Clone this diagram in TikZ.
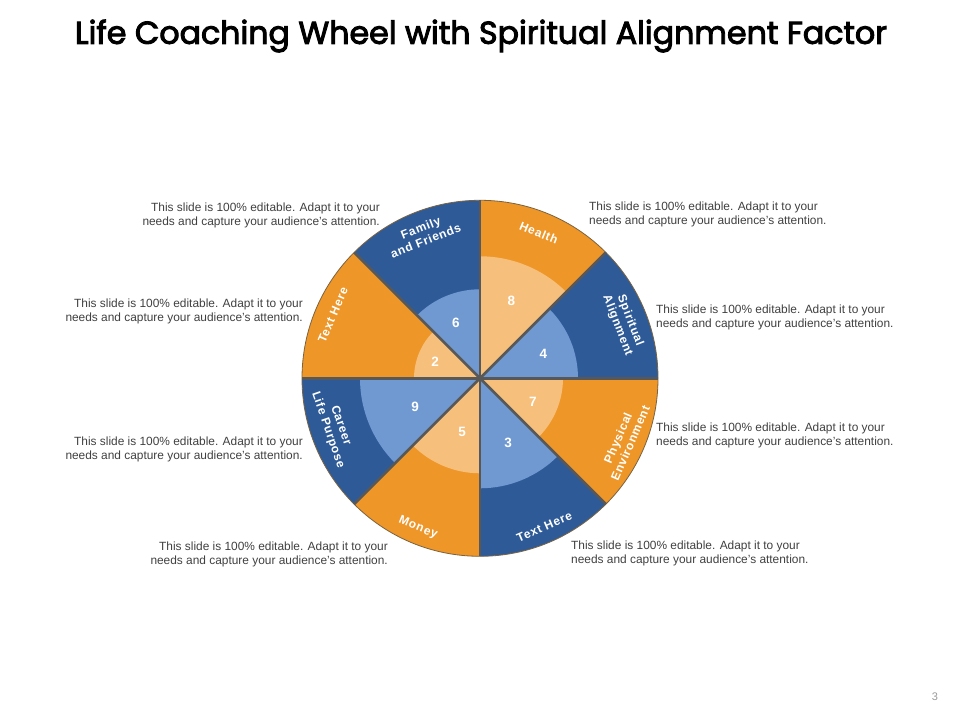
\documentclass[tikz,border=0pt]{standalone}
\usepackage{fontspec}
\setmainfont{Liberation Sans}
\newfontfamily\titlefont[FakeBold=3]{Poppins}
\newfontfamily\labelfont[LetterSpace=6]{Liberation Sans}
\definecolor{wOrange}{HTML}{EE9627}
\definecolor{wBlue}{HTML}{2E5B98}
\definecolor{wLOrange}{HTML}{F6BF7B}
\definecolor{wLBlue}{HTML}{7099D1}
\definecolor{wSep}{HTML}{585858}
\definecolor{wRim}{HTML}{7A6240}
\definecolor{wText}{HTML}{404040}
\begin{document}
\begin{tikzpicture}[x=1pt,y=1pt,
  seclabel/.style={text=white,font=\labelfont\fontsize{12}{13.5}\selectfont\bfseries,align=center,inner sep=0pt},
  numlabel/.style={text=white,font=\fontsize{13.5}{14}\selectfont\bfseries,inner sep=0pt},
  note/.style={text=wText,font=\fontsize{11.9}{14}\selectfont,inner sep=0pt},
  sepline/.style={draw=wSep,line width=2.6pt},
]
\useasboundingbox (0,0) rectangle (960,720);
\node[inner sep=0pt] (title) at (481,684) {\resizebox{812pt}{!}{\titlefont Life Coaching Wheel with Spiritual Alignment Factor}};
\begin{scope}[shift={(480,341.7)}]
  \def\R{178}
  \foreach \a/\c/\r/\lc in {45/wOrange/122/wLOrange, 0/wBlue/98/wLBlue, -45/wOrange/83/wLOrange, -90/wBlue/110/wLBlue, -135/wOrange/95/wLOrange, -180/wBlue/120/wLBlue, 135/wOrange/66/wLOrange, 90/wBlue/89/wLBlue}{
    \fill[\c] (0,0) -- (\a:\R) arc[start angle=\a, end angle=\a+45, radius=\R] -- cycle;
    \fill[\lc] (0,0) -- (\a:\r) arc[start angle=\a, end angle=\a+45, radius=\r] -- cycle;
  }
  \draw[wRim,line width=0.8pt] (0,0) circle[radius=\R];
  \coordinate (c) at (0,0);
  \foreach \a in {0,45,...,315}{
    \coordinate (e\a) at (\a:\R);
    \draw[sepline] (c) -- (e\a);
  }
  % sector labels
  \node[seclabel,rotate=-22] (health) at (68:157) {Health};
  \node[seclabel,rotate=21.5] (family) at (111.5:155) {Family\\and Friends};
  \node[seclabel,rotate=-69] (spirit) at (21:154) {Spiritual\\Alignment};
  \node[seclabel,rotate=66.6] (phys) at (-23.4:157) {Physical\\Environment};
  \node[seclabel,rotate=23.4] (texthereb) at (-66.6:162) {Text Here};
  \node[seclabel,rotate=-22.5] (money) at (-112.5:162) {Money};
  \node[seclabel,rotate=-71] (career) at (-161.2:154) {Career\\Life Purpose};
  \node[seclabel,rotate=66.8] (texthere) at (156.8:160) {Text Here};
  % numbers
  \node[numlabel] (n8) at (68:84) {8};
  \node[numlabel] (n4) at (21:68) {4};
  \node[numlabel] (n7) at (-24.4:58) {7};
  \node[numlabel] (n3) at (-66.4:70) {3};
  \node[numlabel] (n5) at (-108.4:57) {5};
  \node[numlabel] (n9) at (-155.9:71) {9};
  \node[numlabel] (n2) at (159.3:48) {2};
  \node[numlabel] (n6) at (113.6:60) {6};
\end{scope}
% notes
\node[note,anchor=east,align=right] (tl) at (380,505) {This slide is 100\% editable. Adapt it to your\\needs and capture your audience's attention.};
\node[note,anchor=east,align=right] (l2) at (303,409) {This slide is 100\% editable. Adapt it to your\\needs and capture your audience's attention.};
\node[note,anchor=east,align=right] (l3) at (303,271) {This slide is 100\% editable. Adapt it to your\\needs and capture your audience's attention.};
\node[note,anchor=east,align=right] (bl) at (388,166) {This slide is 100\% editable. Adapt it to your\\needs and capture your audience's attention.};
\node[note,anchor=west,align=left] (tr) at (589,506) {This slide is 100\% editable. Adapt it to your\\needs and capture your audience's attention.};
\node[note,anchor=west,align=left] (r2) at (656,403) {This slide is 100\% editable. Adapt it to your\\needs and capture your audience's attention.};
\node[note,anchor=west,align=left] (r3) at (656,285) {This slide is 100\% editable. Adapt it to your\\needs and capture your audience's attention.};
\node[note,anchor=west,align=left] (br) at (571,167) {This slide is 100\% editable. Adapt it to your\\needs and capture your audience's attention.};
\node[text=gray!80,font=\fontsize{11}{12}\selectfont,inner sep=0pt] (page) at (935,23) {3};
\end{tikzpicture}
\end{document}
